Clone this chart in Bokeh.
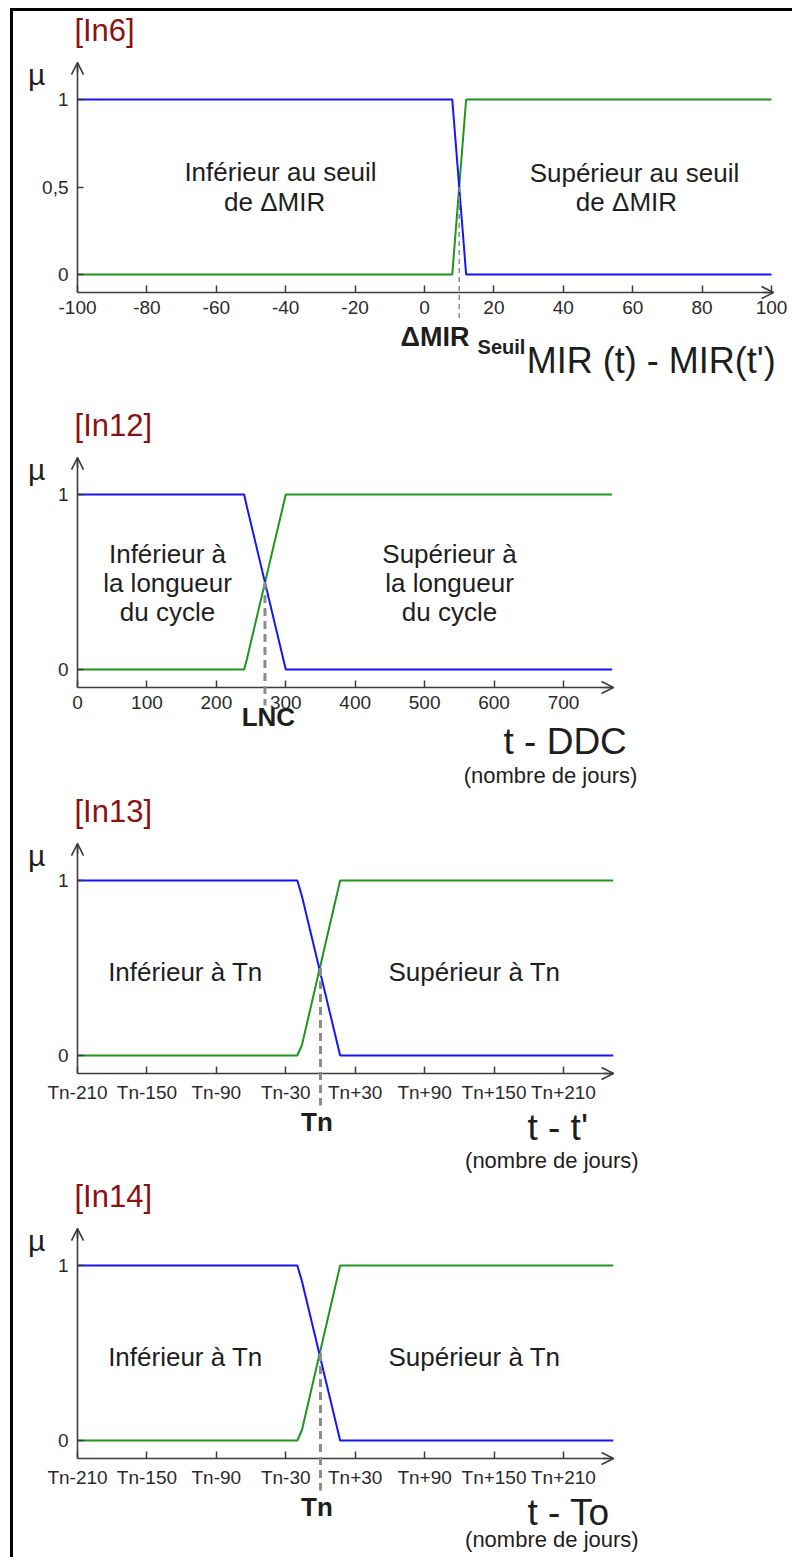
from bokeh.plotting import figure
from bokeh.models import FixedTicker, Label, Arrow, OpenHead, Div, Spacer, Range1d
from bokeh.layouts import column, row
from bokeh.embed import file_html
from bokeh.resources import INLINE

# ---------------- data ----------------
# [In6]  MIR(t) - MIR(t')
in6_x = [-100, 8, 12, 100]
in6_low = [1, 1, 0, 0]
in6_high = [0, 0, 1, 1]
in6_threshold = 10
in6_xticks = [-100, -80, -60, -40, -20, 0, 20, 40, 60, 80, 100]
in6_xlabels = ["-100", "-80", "-60", "-40", "-20", "0", "20", "40", "60", "80", "100"]
in6_yticks = [0, 0.5, 1]
in6_ylabels = ["0", "0,5", "1"]

# [In12]  t - DDC
in12_x = [0, 240, 244, 300, 770]
in12_low = [1, 1, 0.93, 0, 0]
in12_high = [0, 0, 0.06, 1, 1]
in12_threshold = 270
in12_xticks = [0, 100, 200, 300, 400, 500, 600, 700]
in12_xlabels = ["0", "100", "200", "300", "400", "500", "600", "700"]

# [In13] / [In14]  (days relative to Tn)
tn_x = [-210, -20, -16, 17, 253]
tn_low = [1, 1, 0.91, 0, 0]
tn_high = [0, 0, 0.06, 1, 1]
tn_threshold = 0
tn_xticks = [-210, -150, -90, -30, 30, 90, 150, 210]
tn_xlabels = ["Tn-210", "Tn-150", "Tn-90", "Tn-30", "Tn+30", "Tn+90", "Tn+150", "Tn+210"]

y01_ticks = [0, 1]
y01_labels = ["0", "1"]

# ---------------- style ----------------
FONT = "Liberation Sans"
AXIS = "#3c3c3c"
BLUE = "#1414FF"
GREEN = "#1E961E"
DASH = "#8c8c8c"
TXT = "#1e1e1e"
TITLE = "#8B1212"
PANEL_W = 779
YSCALE = 175.0           # px per membership unit
Y_AXIS_LOW = -0.103      # where the x axis sits (below mu = 0)
Y_AXIS_TIP = 1.211       # top of the mu axis
BASELINE_FIX = 0.33      # em correction for baseline placement


def make_panel(height, y0_px, x_origin, x_origin_px, xscale, x_tip,
               xticks, xlabels, yticks, ylabels, xs, low, high):
    xr = (x_origin - x_origin_px / xscale, x_origin + (PANEL_W - x_origin_px) / xscale)
    yr = (-(height - y0_px) / YSCALE, y0_px / YSCALE)
    p = figure(width=PANEL_W, height=height, x_range=Range1d(*xr), y_range=Range1d(*yr),
               output_backend="svg", toolbar_location=None, title=None,
               min_border=0, min_border_left=0, min_border_right=0,
               min_border_top=0, min_border_bottom=0,
               background_fill_color="white", border_fill_color="white",
               outline_line_color=None)
    p.xgrid.visible = False
    p.ygrid.visible = False
    xa, ya = p.xaxis[0], p.yaxis[0]
    for ax in (xa, ya):
        ax.axis_line_color = AXIS
        ax.axis_line_width = 1.6
        ax.major_tick_line_color = AXIS
        ax.major_tick_line_width = 1.5
        ax.minor_tick_line_color = None
        ax.major_tick_out = 0
        ax.major_label_text_font = FONT
        ax.major_label_text_font_size = "19px"
        ax.major_label_text_color = "#2a2a2a"
    xa.fixed_location = Y_AXIS_LOW
    xa.bounds = (x_origin, x_tip)
    xa.ticker = FixedTicker(ticks=xticks)
    xa.major_label_overrides = {t: s for t, s in zip(xticks, xlabels)}
    xa.major_tick_in = 7
    xa.major_label_standoff = 8
    ya.fixed_location = x_origin
    ya.bounds = (Y_AXIS_LOW, Y_AXIS_TIP)
    ya.ticker = FixedTicker(ticks=yticks)
    ya.major_label_overrides = {t: s for t, s in zip(yticks, ylabels)}
    ya.major_tick_in = 6
    ya.major_label_standoff = 9

    p.line(xs, high, line_color=GREEN, line_width=2)
    p.line(xs, low, line_color=BLUE, line_width=2)

    # axis arrow heads
    p.add_layout(Arrow(x_start=x_tip - 10 / xscale, y_start=Y_AXIS_LOW, x_end=x_tip, y_end=Y_AXIS_LOW,
                       line_color=AXIS, line_width=1.6,
                       end=OpenHead(size=12, line_color=AXIS, line_width=1.6)))
    p.add_layout(Arrow(x_start=x_origin, y_start=Y_AXIS_TIP - 10 / YSCALE, x_end=x_origin, y_end=Y_AXIS_TIP,
                       line_color=AXIS, line_width=1.6,
                       end=OpenHead(size=12, line_color=AXIS, line_width=1.6)))
    return p


def label(p, x, y, text, size, align="center", bold=False, color=TXT):
    y = y + BASELINE_FIX * size / YSCALE
    p.add_layout(Label(x=x, y=y, text=text, text_font=FONT, text_font_size=f"{size}px",
                       text_align=align, text_baseline="alphabetic", text_color=color,
                       text_font_style="bold" if bold else "normal"))


def vdash(p, x, y_top, y_bot, width, dash):
    p.add_layout(Arrow(x_start=x, y_start=y_top, x_end=x, y_end=y_bot, start=None, end=None,
                       line_color=DASH, line_width=width, line_dash=dash))


# ---------- panel In6 ----------
p1 = make_panel(381, 263, -100, 64, 3.47, 100.58, in6_xticks, in6_xlabels,
                in6_yticks, in6_ylabels, in6_x, in6_low, in6_high)
label(p1, -100.9, 1.334, "[In6]", 31, "left", color=TITLE)
label(p1, -111.8, 1.086, "µ", 30)
label(p1, -41.5, 0.537, "Inférieur au seuil", 26)
label(p1, -43.2, 0.366, "de ΔMIR", 26)
label(p1, 60.5, 0.531, "Supérieur au seuil", 26)
label(p1, 58.2, 0.366, "de ΔMIR", 26)
vdash(p1, in6_threshold, 0.5, -0.25, 1.5, "5 4")
label(p1, -6.9, -0.406, "ΔMIR", 27, "left", bold=True)
label(p1, 15.3, -0.451, "Seuil", 20, "left", bold=True)
label(p1, 101.2, -0.56, "MIR (t) - MIR(t')", 36, "right")

# ---------- panel In12 ----------
p2 = make_panel(400, 277, 0, 64, 0.6943, 772, in12_xticks, in12_xlabels,
                y01_ticks, y01_labels, in12_x, in12_low, in12_high)
label(p2, -4.3, 1.334, "[In12]", 31, "left", color=TITLE)
label(p2, -59.0, 1.086, "µ", 30)
for txt, yy in zip(["Inférieur à", "la longueur", "du cycle"], [0.611, 0.443, 0.277]):
    label(p2, 129.6, yy, txt, 26)
for txt, yy in zip(["Supérieur à", "la longueur", "du cycle"], [0.611, 0.443, 0.277]):
    label(p2, 535.8, yy, txt, 26)
vdash(p2, in12_threshold, 0.5, -0.206, 3, "8 5")
label(p2, 275, -0.32, "LNC", 26, bold=True)
label(p2, 613.6, -0.48, "t - DDC", 37, "left")
label(p2, 681.3, -0.646, "(nombre de jours)", 22)


def tn_panel(height, y0_px, name, axis_name, sub_y):
    p = make_panel(height, y0_px, -210, 64, 1.157, 253.3, tn_xticks, tn_xlabels,
                   y01_ticks, y01_labels, tn_x, tn_low, tn_high)
    label(p, -212.6, 1.334, name, 31, "left", color=TITLE)
    label(p, -245.4, 1.086, "µ", 30)
    label(p, -116.7, 0.43, "Inférieur à Tn", 26)
    label(p, 133.1, 0.43, "Supérieur à Tn", 26)
    vdash(p, tn_threshold, 0.5, -0.286, 3, "8 5")
    label(p, -3, -0.43, "Tn", 26, bold=True)
    label(p, 178.9, -0.48, axis_name, 37, "left")
    label(p, 200, sub_y, "(nombre de jours)", 22)
    return p


p3 = tn_panel(383, 263, "[In13]", "t - t'", -0.64)
p4 = tn_panel(382, 265, "[In14]", "t - To", -0.606)

BLACK = {"background-color": "black"}
top_gap = Spacer(width=792, height=8, margin=0)
top_line = row(Spacer(width=10, height=3, margin=0),
               Div(text="", width=782, height=3, margin=0, styles=BLACK), spacing=0)
body = row(Spacer(width=10, height=1546, margin=0),
           Div(text="", width=3, height=1546, margin=0, styles=BLACK),
           column(p1, p2, p3, p4, spacing=0), spacing=0)
layout = column(top_gap, top_line, body, spacing=0)

open("out.html", "w").write(file_html(layout, INLINE))
